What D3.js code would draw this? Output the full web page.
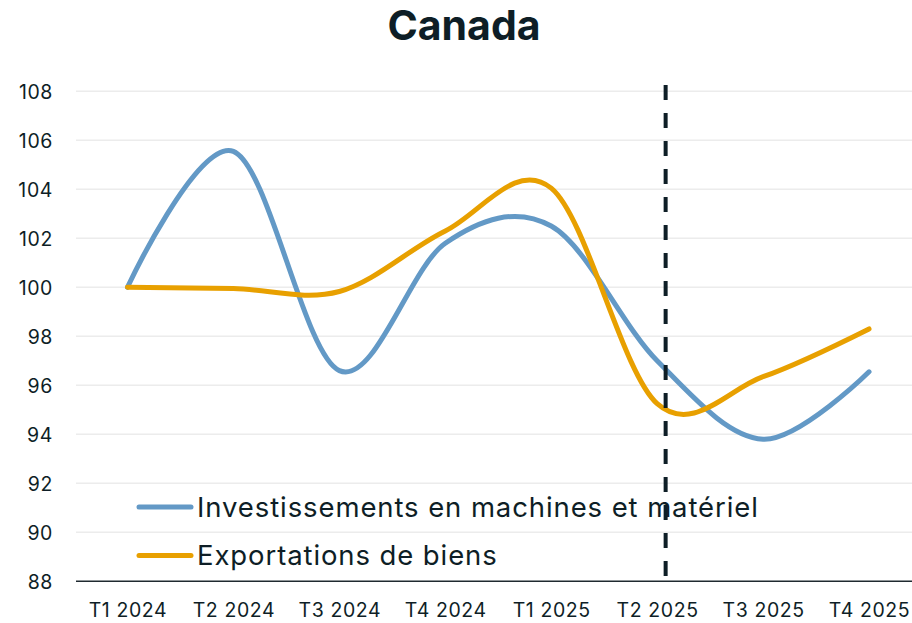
<!DOCTYPE html>
<html><head><meta charset="utf-8">
<script src="https://cdn.jsdelivr.net/npm/d3@7"></script>
<style>
html,body{margin:0;padding:0;background:#fff;}
svg{display:block;font-family:Inter, "Open Sans", sans-serif;}
</style></head>
<body>
<svg id="chart" width="912" height="623"></svg>
<script>
const categories = ["T1 2024","T2 2024","T3 2024","T4 2024","T1 2025","T2 2025","T3 2025","T4 2025"];
const investissements = [100, 105.55, 96.6, 101.8, 102.5, 97.0, 93.8, 96.55];
const exportations = [100, 99.95, 99.83, 102.3, 104.05, 95.25, 96.35, 98.3];
const seriesNames = ["Investissements en machines et matériel", "Exportations de biens"];
const yTicks = [88, 90, 92, 94, 96, 98, 100, 102, 104, 106, 108];
const markerIndex = 5.08;
const title = "Canada";

const svg = d3.select("#chart");
const W = 912, H = 623;
const textColor = "#0e1e26";
const colors = ["#6399c6", "#e8a000"];

const x = d3.scalePoint().domain(categories).range([74.5, 922]).padding(0.5);
const xIdx = d3.scaleLinear().domain([0, categories.length - 1]).range([x(categories[0]), x(categories[categories.length - 1])]);
const y = d3.scaleLinear().domain([88, 108]).range([581.3, 91.3]);

// title
svg.append("text").attr("x", 464).attr("y", 40).attr("text-anchor", "middle")
  .attr("font-size", 41).attr("font-weight", 700).attr("fill", textColor).text(title);

// gridlines
svg.append("g").selectAll("line").data(yTicks.filter(d => d !== 88)).join("line")
  .attr("x1", 76).attr("x2", W).attr("y1", d => y(d)).attr("y2", d => y(d))
  .attr("stroke", "#ececec").attr("stroke-width", 1.5);

// y axis labels
const yAxis = d3.axisLeft(y).tickValues(yTicks).tickSize(0).tickPadding(0);
const yg = svg.append("g").attr("transform", "translate(53,0)").call(yAxis);
yg.select(".domain").remove();
yg.selectAll("text").attr("font-size", 19.5).attr("letter-spacing", 0.6).attr("fill", textColor)
  .attr("font-family", "Inter, sans-serif").attr("dy", "0.36em");

// x axis
const xAxis = d3.axisBottom(x).tickSize(0).tickPadding(0);
const xg = svg.append("g").attr("transform", `translate(0,${y(88)})`).call(xAxis);
xg.select(".domain").remove();
xg.selectAll("text").attr("font-size", 19.5).attr("letter-spacing", 0.6).attr("fill", textColor)
  .attr("font-family", "Inter, sans-serif").attr("dy", 0).attr("y", 36);
svg.append("line").attr("x1", 76).attr("x2", W).attr("y1", y(88)).attr("y2", y(88))
  .attr("stroke", "#1f2a30").attr("stroke-width", 1.6);

// lines
const line = d3.line().x((d, i) => x(categories[i])).y(d => y(d)).curve(d3.curveCardinal.tension(0));
[investissements, exportations].forEach((s, k) => {
  svg.append("path").datum(s).attr("d", line).attr("fill", "none")
    .attr("stroke", colors[k]).attr("stroke-width", 5).attr("stroke-linecap", "round").attr("stroke-linejoin", "round");
});

// dashed marker
svg.append("line").attr("x1", xIdx(markerIndex)).attr("x2", xIdx(markerIndex))
  .attr("y1", 85).attr("y2", 578).attr("stroke", textColor).attr("stroke-width", 4)
  .attr("stroke-dasharray", "15,13");

// legend
const lg = svg.append("g");
seriesNames.forEach((n, k) => {
  const ly = 507 + k * 48.5;
  lg.append("line").attr("x1", 139).attr("x2", 191).attr("y1", ly).attr("y2", ly)
    .attr("stroke", colors[k]).attr("stroke-width", 5).attr("stroke-linecap", "round");
  lg.append("text").attr("x", 197).attr("y", ly + 9.5).attr("font-size", 27.5).attr("letter-spacing", 0.9)
    .attr("fill", textColor).text(n);
});
</script>
</body></html>
